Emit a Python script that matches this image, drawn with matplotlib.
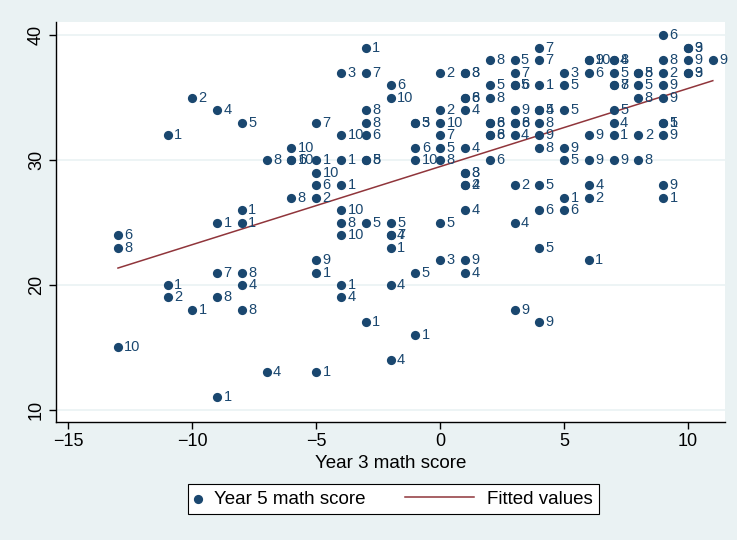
import matplotlib
matplotlib.use("Agg")
import matplotlib.pyplot as plt
from matplotlib.legend_handler import HandlerPathCollection
import numpy as np

# year 3 score, year 5 score, marker label (school)
year3 = [-13, -13, -13,
         -11, -11, -11,
         -10, -10,
         -9, -9, -9, -9, -9,
         -8, -8, -8, -8, -8, -8,
         -7, -7,
         -6, -6, -6, -6,
         -5, -5, -5, -5, -5, -5, -5, -5,
         -4, -4, -4, -4, -4, -4, -4, -4, -4,
         -3, -3, -3, -3, -3, -3, -3, -3, -3,
         -2, -2, -2, -2, -2, -2, -2, -2,
         -1, -1, -1, -1, -1, -1,
         0, 0, 0, 0, 0, 0, 0, 0,
         1, 1, 1, 1, 1, 1, 1, 1, 1, 1, 1, 1, 1,
         2, 2, 2, 2, 2, 2, 2, 2,
         3, 3, 3, 3, 3, 3, 3, 3, 3, 3, 3,
         4, 4, 4, 4, 4, 4, 4, 4, 4, 4, 4, 4,
         5, 5, 5, 5, 5, 5, 5,
         6, 6, 6, 6, 6, 6, 6, 6,
         7, 7, 7, 7, 7, 7, 7, 7, 7,
         8, 8, 8, 8, 8, 8,
         9, 9, 9, 9, 9, 9, 9, 9, 9, 9,
         10, 10, 10, 10, 10,
         11]
year5 = [24, 23, 15,
         32, 20, 19,
         35, 18,
         34, 25, 21, 19, 11,
         33, 26, 25, 21, 20, 18,
         30, 13,
         31, 30, 30, 27,
         33, 30, 29, 28, 27, 22, 21, 13,
         37, 32, 30, 28, 26, 25, 24, 20, 19,
         39, 37, 34, 33, 32, 30, 30, 25, 17,
         36, 35, 25, 24, 24, 23, 20, 14,
         33, 33, 31, 30, 21, 16,
         37, 34, 33, 32, 31, 30, 25, 22,
         37, 37, 35, 35, 34, 31, 29, 29, 28, 28, 26, 22, 21,
         38, 36, 35, 33, 33, 32, 32, 30,
         38, 37, 36, 36, 34, 33, 33, 32, 28, 25, 18,
         39, 38, 36, 34, 34, 33, 32, 31, 28, 26, 23, 17,
         37, 36, 34, 31, 30, 27, 26,
         38, 38, 37, 32, 30, 28, 27, 22,
         38, 38, 37, 36, 36, 34, 33, 32, 30,
         37, 37, 36, 35, 32, 30,
         40, 38, 37, 36, 35, 33, 33, 32, 28, 27,
         39, 39, 38, 37, 37,
         38]
school = [6, 8, 10,
          1, 1, 2,
          2, 1,
          4, 1, 7, 8, 1,
          5, 1, 1, 8, 4, 8,
          8, 4,
          10, 6, 10, 8,
          7, 1, 10, 6, 2, 9, 1, 1,
          3, 10, 1, 1, 10, 8, 10, 1, 4,
          1, 7, 8, 8, 6, 8, 5, 5, 1,
          6, 10, 5, 7, 4, 1, 4, 4,
          5, 3, 6, 10, 5, 1,
          2, 2, 10, 7, 5, 8, 5, 3,
          8, 3, 8, 6, 4, 4, 8, 3, 2, 4, 4, 9, 4,
          8, 5, 8, 8, 6, 6, 8, 6,
          5, 7, 6, 5, 9, 8, 6, 4, 2, 4, 9,
          7, 7, 1, 5, 4, 8, 9, 8, 5, 6, 5, 9,
          3, 5, 5, 9, 5, 1, 6,
          9, 10, 6, 9, 9, 4, 2, 1,
          8, 4, 5, 8, 7, 5, 4, 1, 9,
          5, 8, 5, 8, 2, 8,
          6, 8, 2, 9, 9, 5, 1, 9, 9, 1,
          9, 3, 9, 9, 3,
          9]

navy = "#1a476f"
maroon = "#90353b"
bg = "#eaf2f3"


class ShortMarkerHandle(HandlerPathCollection):
    # marker entry gets a narrow handle, the line entry keeps the long one
    def legend_artist(self, legend, orig_handle, fontsize, handlebox):
        handlebox.width = 0.35 * fontsize
        return super().legend_artist(legend, orig_handle, fontsize, handlebox)


x = np.array(year3, dtype=float)
y = np.array(year5, dtype=float)
slope, icpt = np.polyfit(x, y, 1)
xfit = np.array([x.min(), x.max()])

plt.rcParams["font.family"] = ["Liberation Sans", "DejaVu Sans"]

fig = plt.figure(figsize=(7.37, 5.4), dpi=100, facecolor=bg)
ax = fig.add_axes([0.076, 0.219, 0.908, 0.740])
ax.set_facecolor("white")

ax.set_yticks([10, 20, 30, 40])
ax.grid(axis="y", color=bg, linewidth=1.2, zorder=0)
ax.set_axisbelow(True)

pts = ax.scatter(x, y, s=44, color=navy, zorder=3, linewidths=0)
for xi, yi, lab in zip(year3, year5, school):
    ax.annotate(str(lab), (xi, yi), xytext=(4.6, 0), textcoords="offset points",
                ha="left", va="center", fontsize=10.5, color=navy, zorder=4)
fit, = ax.plot(xfit, icpt + slope * xfit, color=maroon, linewidth=1.1, zorder=2)

ax.set_xlim(-15.5, 11.5)
ax.set_ylim(9.05, 41.05)
ax.set_xticks([-15, -10, -5, 0, 5, 10])
ax.set_xticklabels(["\u221215", "\u221210", "\u22125", "0", "5", "10"])
for s in ["top", "right"]:
    ax.spines[s].set_visible(False)
for s in ["left", "bottom"]:
    ax.spines[s].set_color("black")
    ax.spines[s].set_linewidth(1.0)
ax.tick_params(axis="both", direction="out", length=5, width=1, color="black",
               labelsize=13, pad=3)
plt.setp(ax.get_yticklabels(), rotation=90, va="center")
ax.set_xlabel("Year 3 math score", fontsize=13.5, labelpad=4)

leg = fig.legend([pts, fit], ["Year 5 math score", "Fitted values"],
                 loc="center", bbox_to_anchor=(0.534, 0.076), ncol=2, fontsize=13.5,
                 frameon=True, fancybox=False, edgecolor="black", facecolor="white",
                 framealpha=1, scatterpoints=1, handlelength=3.7, columnspacing=2.1,
                 borderpad=0.35, handletextpad=0.67,
                 handler_map={type(pts): ShortMarkerHandle()})
leg.get_frame().set_linewidth(0.8)

plt.savefig("out.png", dpi=100, facecolor=bg)
plt.close()
